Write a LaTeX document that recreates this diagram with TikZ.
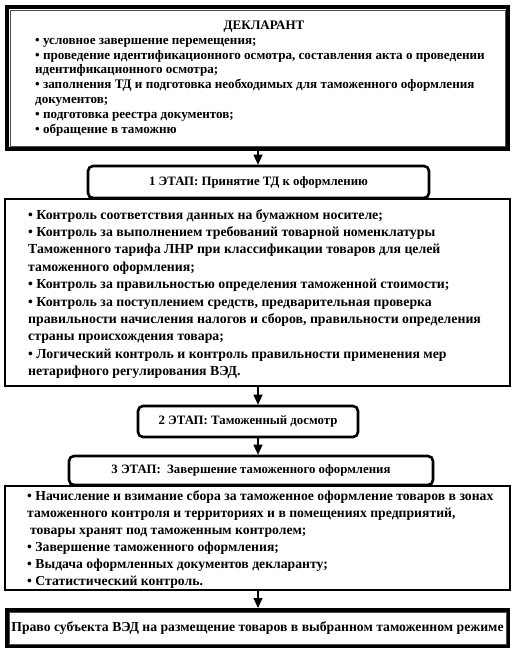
\documentclass[tikz,border=0pt]{standalone}
\usepackage{fontspec}
\setmainfont{Liberation Serif}
\usetikzlibrary{arrows.meta,calc}
\begin{document}
\begin{tikzpicture}[x=1pt,y=-1pt,
  heavybox/.style={draw,line width=4pt,minimum width=501pt,inner sep=0pt},
  stagebox/.style={draw,line width=2.6pt,rounded corners=5pt,fill=white,inner sep=0pt,font=\bfseries\fontsize{12.8}{14}\selectfont},
  plainbox/.style={draw,line width=1.2pt,minimum width=505pt,inner sep=0pt},
  txt/.style={inner sep=0pt,align=left,anchor=west},
  arr/.style={line width=1.2pt,-{Triangle[width=9pt,length=10pt]}}]
\useasboundingbox (0,0) rectangle (513,659);
% top box
\node[heavybox,minimum height=142pt] (top) at (257.5,78) {};
\draw[line width=0.8pt,black!70] ($(top.north west)+(5,5)$) rectangle ($(top.south east)+(-5,-5)$);
\node[inner sep=0pt,font=\bfseries\fontsize{13}{14}\selectfont] (decl) at (264,27) {ДЕКЛАРАНТ};
\node[txt,font=\bfseries\fontsize{13.1}{14.8}\selectfont] (decltxt) at (35,87) {• условное завершение перемещения;\\
• проведение идентификационного осмотра, составления акта о проведении\\
идентификационного осмотра;\\
• заполнения ТД и подготовка необходимых для таможенного оформления\\
документов;\\
• подготовка реестра документов;\\
• обращение в таможню};
% content box 1
\node[plainbox,minimum height=187pt] (c1) at (257.5,292.5) {};
\node[txt,font=\bfseries\fontsize{13.8}{17.4}\selectfont] (c1txt) at (28,294) {• Контроль соответствия данных на бумажном носителе;\\
• Контроль за выполнением требований товарной номенклатуры\\
Таможенного тарифа ЛНР при классификации товаров для целей\\
таможенного оформления;\\
• Контроль за правильностью определения таможенной стоимости;\\
• Контроль за поступлением средств, предварительная проверка\\
правильности начисления налогов и сборов, правильности определения\\
страны происхождения товара;\\
• Логический контроль и контроль правильности применения мер\\
нетарифного регулирования ВЭД.};
% stage 1
\node[stagebox,minimum width=341pt,minimum height=32pt] (s1) at (258.5,182) {1 ЭТАП: Принятие ТД к оформлению};
% stage 2
\node[stagebox,minimum width=220pt,minimum height=31pt] (s2) at (248,421.5) {2 ЭТАП: Таможенный досмотр};
% content box 3
\node[plainbox,minimum height=104pt] (c3) at (257.5,538) {};
\node[txt,font=\bfseries\fontsize{13.7}{17}\selectfont] (c3txt) at (27,540) {• Начисление и взимание сбора за таможенное оформление товаров в зонах\\
таможенного контроля и территориях и в помещениях предприятий,\\
\hspace{3pt}товары хранят под таможенным контролем;\\
• Завершение таможенного оформления;\\
• Выдача оформленных документов декларанту;\\
• Статистический контроль.};
% stage 3
\node[stagebox,minimum width=364pt,minimum height=29pt] (s3) at (251,470.5) {3 ЭТАП:\ \ Завершение таможенного оформления};
% final box
\node[heavybox,minimum height=36pt,font=\bfseries\fontsize{13.7}{16}\selectfont] (fin) at (257.5,628) {Право субъекта ВЭД на размещение товаров в выбранном таможенном режиме};
\draw[line width=0.8pt,black!70] ($(fin.north west)+(4,4)$) rectangle ($(fin.south east)+(-4,-4)$);
% arrows
\coordinate (ax) at (258,0);
\draw[arr] (top.south -| ax) -- (s1.north -| ax);
\draw[arr] (c1.south -| ax) -- (s2.north -| ax);
\draw[arr] (s2.south -| ax) -- (s3.north -| ax);
\draw[arr] (c3.south -| ax) -- (fin.north -| ax);
\end{tikzpicture}
\end{document}
